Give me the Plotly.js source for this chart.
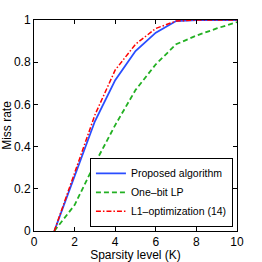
<!DOCTYPE html>
<html><head><meta charset="utf-8">
<script src="https://cdn.plot.ly/plotly-3.0.1.min.js"></script>
<style>html,body{margin:0;padding:0;background:#fff}</style>
</head><body><div id="plot" style="width:262px;height:262px"></div>
<script>
var sparsity = [1,2,3,4,5,6,7,8,9,10];
var proposed = [0,0.257,0.52,0.715,0.853,0.94,0.995,1,1,1];
var oneBitLP = [0,0.123,0.32,0.502,0.668,0.79,0.885,0.926,0.96,0.99];
var l1opt = [0,0.28,0.55,0.763,0.885,0.96,0.995,1,1,1];
var seriesNames = ['Proposed algorithm','One\u2013bit LP','L1\u2013optimization (14)'];
var xTicks = [0,2,4,6,8,10];
var yTicks = [0,0.2,0.4,0.6,0.8,1];

var font = {family:'Liberation Sans, Arial, sans-serif', size:12, color:'#000'};
var traces = [
 {x:sparsity, y:proposed, name:seriesNames[0], mode:'lines', line:{color:'#2a4dff', width:1.8, dash:'solid'}},
 {x:sparsity, y:oneBitLP, name:seriesNames[1], mode:'lines', line:{color:'#22b022', width:1.8, dash:'5px,3px'}},
 {x:sparsity, y:l1opt, name:seriesNames[2], mode:'lines', line:{color:'#ff0000', width:1.5, dash:'5px,2px,1.5px,2px'}}
];
var axisCommon = {showgrid:false, zeroline:false, showline:true, mirror:'ticks', linecolor:'#000', linewidth:1,
  ticks:'inside', ticklen:4, tickcolor:'#000', tickfont:font};
var layout = {
  width:262, height:262, margin:{l:33.5, r:25, t:20, b:31}, paper_bgcolor:'#fff', plot_bgcolor:'#fff',
  font:font, showlegend:true,
  xaxis:Object.assign({}, axisCommon, {range:[0,10], tickvals:xTicks, ticktext:xTicks.map(String),
    title:{text:'Sparsity level (K)', font:font, standoff:4}}),
  yaxis:Object.assign({}, axisCommon, {range:[0,1], tickvals:yTicks, ticktext:yTicks.map(String),
    title:{text:'Miss rate', font:font, standoff:2}}),
  legend:{x:0.98, y:0.02, xanchor:'right', yanchor:'bottom', bgcolor:'#fff', bordercolor:'#000', borderwidth:1,
    font:{family:font.family, size:10.5, color:'#000'}, tracegroupgap:0, itemwidth:30}
};
Plotly.newPlot('plot', traces, layout, {staticPlot:true, displayModeBar:false});
</script></body></html>
